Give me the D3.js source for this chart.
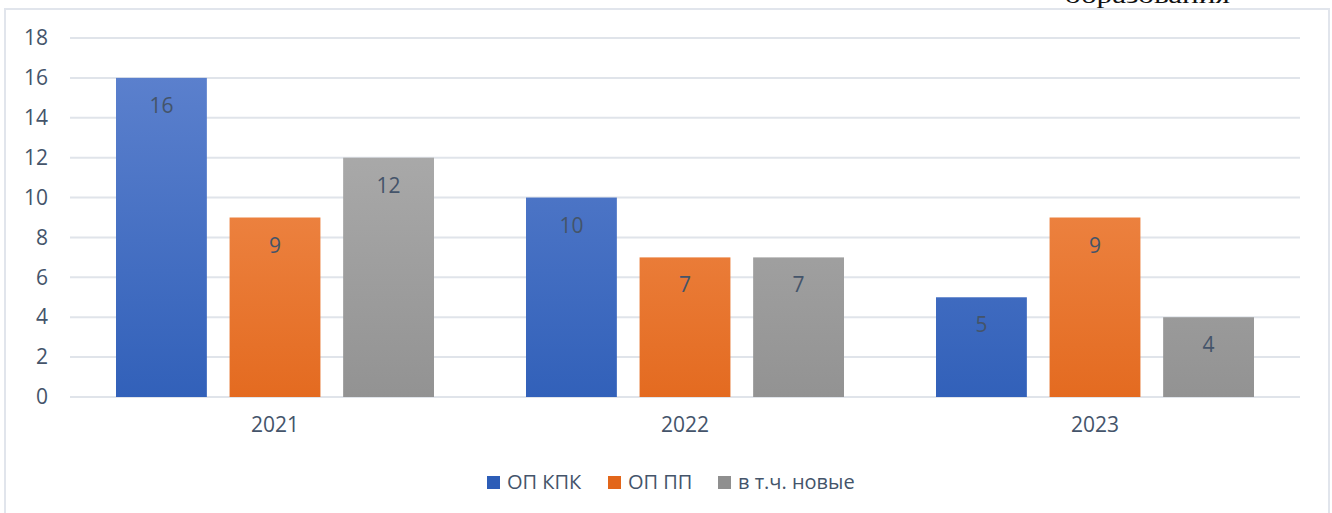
<!DOCTYPE html>
<html>
<head>
<meta charset="utf-8">
<script src="https://cdn.jsdelivr.net/npm/d3@7"></script>
<style>
  body { margin: 0; background: #fff; }
  svg { display: block; }
</style>
</head>
<body>
<div id="chart"></div>
<script>
// Chart data
const years = ["2021", "2022", "2023"];
const seriesNames = ["ОП КПК", "ОП ПП", "в т.ч. новые"];
const opKpk = [16, 10, 5];
const opPp = [9, 7, 9];
const novye = [12, 7, 4];
const yTicks = [0, 2, 4, 6, 8, 10, 12, 14, 16, 18];

const W = 1332, H = 513;
const margin = { top: 38, right: 32, bottom: 116, left: 70 };
const width = W - margin.left - margin.right;
const height = 397 - margin.top;

const colors = [
  { top: "#5b80cd", bottom: "#2d5db7" },
  { top: "#f29256", bottom: "#e2661a" },
  { top: "#b0b0b0", bottom: "#8f8f8f" },
];
const textColor = "#44546a";
const font = "'Open Sans', 'Liberation Sans', sans-serif";

const svg = d3.select("#chart").append("svg")
  .attr("width", W).attr("height", H);

// gradients for bars
const defs = svg.append("defs");
colors.forEach((c, i) => {
  const g = defs.append("linearGradient")
    .attr("id", "grad" + i)
    .attr("gradientUnits", "userSpaceOnUse")
    .attr("x1", 0).attr("x2", 0)
    .attr("y1", margin.top).attr("y2", margin.top + height);
  g.append("stop").attr("offset", "0%").attr("stop-color", c.top);
  g.append("stop").attr("offset", "100%").attr("stop-color", c.bottom);
});

// heading fragment, cut off at the top of the page as in the source
svg.append("text")
  .attr("x", 1065).attr("y", 3)
  .attr("textLength", 165)
  .attr("lengthAdjust", "spacingAndGlyphs")
  .style("font-family", "'Liberation Serif', 'DejaVu Serif', serif")
  .style("font-size", "24px")
  .attr("fill", "#111")
  .text("образования");

// chart frame
svg.append("rect")
  .attr("x", 5).attr("y", 9)
  .attr("width", 1324).attr("height", 520)
  .attr("fill", "none")
  .attr("stroke", "#e1e5ec")
  .attr("stroke-width", 2);

const g = svg.append("g")
  .attr("transform", `translate(${margin.left},${margin.top})`);

const x0 = d3.scaleBand().domain(years).range([0, width]).paddingInner(0).paddingOuter(0);
const x1 = d3.scaleBand().domain(d3.range(3)).range([46, x0.bandwidth() - 46]).paddingInner(0.2);
const y = d3.scaleLinear().domain([0, 18]).range([height, 0]);

// gridlines
g.append("g")
  .selectAll("line")
  .data(yTicks)
  .join("line")
  .attr("x1", 0).attr("x2", width)
  .attr("y1", d => y(d)).attr("y2", d => y(d))
  .attr("stroke", "#e0e4ea")
  .attr("stroke-width", 2);

// y axis labels
const yAxis = g.append("g")
  .call(d3.axisLeft(y).tickValues(yTicks).tickSize(0).tickPadding(22));
yAxis.select(".domain").remove();
yAxis.selectAll("text")
  .style("font-family", font)
  .style("font-size", "21px")
  .attr("fill", textColor);

// x axis labels
const xAxis = g.append("g")
  .attr("transform", `translate(0,${height})`)
  .call(d3.axisBottom(x0).tickSize(0).tickPadding(20));
xAxis.select(".domain").remove();
xAxis.selectAll("text")
  .style("font-family", font)
  .style("font-size", "21px")
  .attr("fill", textColor);

const series = [opKpk, opPp, novye];
const groups = g.selectAll(".year")
  .data(years)
  .join("g")
  .attr("class", "year")
  .attr("transform", d => `translate(${x0(d)},0)`);

groups.selectAll("rect")
  .data((d, yi) => series.map((s, si) => ({ si, v: s[yi] })))
  .join("rect")
  .attr("x", d => x1(d.si))
  .attr("width", x1.bandwidth())
  .attr("y", d => y(d.v))
  .attr("height", d => y(0) - y(d.v))
  .attr("fill", d => `url(#grad${d.si})`);

groups.selectAll(".lbl")
  .data((d, yi) => series.map((s, si) => ({ si, v: s[yi] })))
  .join("text")
  .attr("class", "lbl")
  .attr("x", d => x1(d.si) + x1.bandwidth() / 2)
  .attr("y", d => y(d.v) + 35)
  .attr("text-anchor", "middle")
  .style("font-family", font)
  .style("font-size", "21px")
  .attr("fill", textColor)
  .text(d => d.v);

// legend
const legendX = [487, 608, 718];
const legend = svg.append("g")
  .selectAll("g")
  .data(seriesNames)
  .join("g")
  .attr("transform", (d, i) => `translate(${legendX[i]},476)`);
legend.append("rect")
  .attr("width", 13).attr("height", 13)
  .attr("fill", (d, i) => colors[i].bottom);
legend.append("text")
  .attr("x", 20).attr("y", 13)
  .style("font-family", font)
  .style("font-size", "20px")
  .attr("fill", textColor)
  .text(d => d);
</script>
</body>
</html>
